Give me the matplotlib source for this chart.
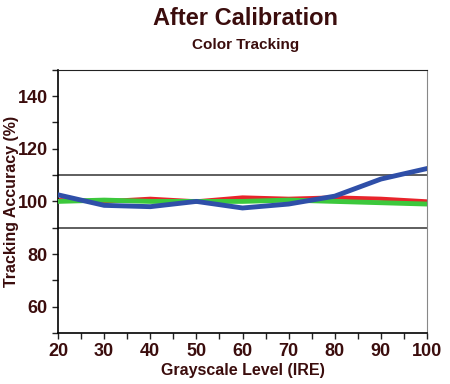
import matplotlib
matplotlib.use("Agg")
import matplotlib.pyplot as plt
from matplotlib.ticker import MultipleLocator

ire = [20, 30, 40, 50, 60, 70, 80, 90, 100]
red = [100.5, 100.0, 101.0, 100.0, 101.5, 101.0, 101.5, 101.0, 100.0]
green = [100.0, 100.5, 100.0, 100.0, 100.0, 100.5, 100.0, 99.5, 99.0]
blue = [102.5, 98.5, 98.0, 100.0, 97.5, 99.0, 102.0, 108.5, 112.5]
limits = [90, 110]

txt = "#3b0d0d"
plt.rcParams.update({"font.family": "Liberation Sans", "font.weight": "bold",
                     "axes.labelweight": "bold"})

fig = plt.figure(figsize=(4.5, 3.84), dpi=100)
ax = fig.add_axes([0.129, 0.133, 0.82, 0.685])

for lim in limits:
    ax.axhline(lim, color="#333333", lw=1.1, zorder=1)
ax.plot(ire, red, color="#e8242b", lw=3, zorder=2)
ax.plot(ire, green, color="#3cc83c", lw=3.5, zorder=3)
ax.plot(ire, blue, color="#2f4fa8", lw=3.5, zorder=4)

ax.set_xlim(20, 100)
ax.set_ylim(50, 150)
ax.xaxis.set_major_locator(MultipleLocator(10))
ax.xaxis.set_minor_locator(MultipleLocator(5))
ax.set_yticks([60, 80, 100, 120, 140])
ax.yaxis.set_minor_locator(MultipleLocator(10))
ax.tick_params(which="both", direction="out", colors="#222222", labelcolor=txt,
               labelsize=13)
ax.tick_params(which="major", length=4, width=1)
ax.tick_params(which="minor", length=4, width=1)
ax.spines["right"].set_color("#888888")
ax.spines["top"].set_color("#222222")
ax.spines["left"].set_linewidth(1.2)
ax.spines["bottom"].set_linewidth(1.2)

ax.set_xlabel("Grayscale Level (IRE)", color=txt, fontsize=11.5)
ax.set_ylabel("Tracking Accuracy (%)", color=txt, fontsize=11.5)
ax.xaxis.set_label_coords(0.5, -0.115)
ax.yaxis.set_label_coords(-0.105, 0.5)

fig.text(0.545, 0.953, "After Calibration", ha="center", va="center",
         color=txt, fontsize=17, fontweight="heavy")
fig.text(0.545, 0.882, "Color Tracking", ha="center", va="center",
         color=txt, fontsize=11)

fig.savefig("out.png")
